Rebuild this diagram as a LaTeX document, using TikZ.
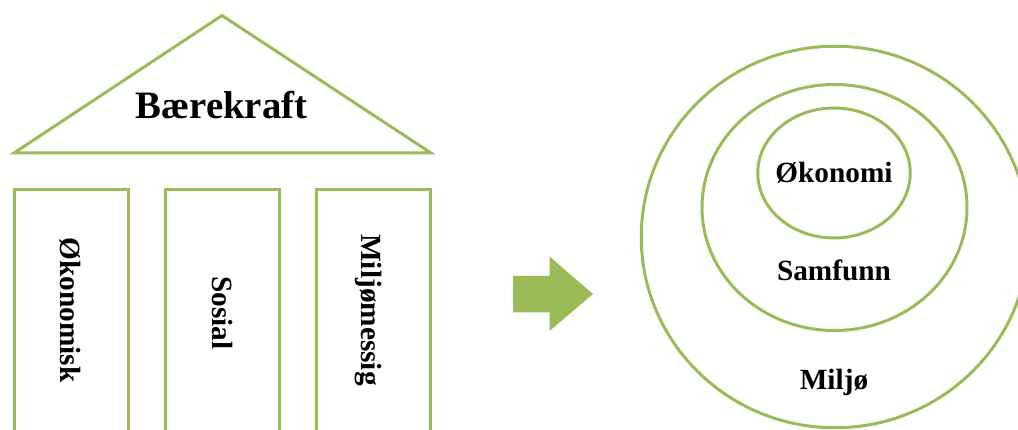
\documentclass[tikz,border=0pt]{standalone}
\usepackage{fontspec}
\setmainfont{Liberation Serif}
\usetikzlibrary{shapes.geometric}
\definecolor{leaf}{HTML}{9BBB59}
\tikzset{
  outline/.style={draw=leaf, line width=3pt, line join=miter},
  pillar/.style={outline, rectangle, minimum width=114pt, minimum height=280pt, anchor=north, inner sep=0pt},
  ring/.style={outline, ellipse, inner sep=0pt},
  bigtxt/.style={font=\bfseries\fontsize{38.8}{44}\selectfont, inner sep=0pt},
  midtxt/.style={font=\bfseries\fontsize{29.3}{34}\selectfont, inner sep=0pt},
  vtxt/.style={midtxt, rotate=-90},
}
\begin{document}
\begin{tikzpicture}[x=1pt, y=-1pt]
\useasboundingbox (0,0) rectangle (1018,430);
\clip (0,0) rectangle (1018,430);
% roof
\coordinate (apex) at (222,15.5);
\coordinate (bl) at (14,153);
\coordinate (br) at (431,153);
\draw[outline] (apex) -- (br) -- (bl) -- cycle;
\node[bigtxt, anchor=base] (roof) at (221.5,118.5) {Bærekraft};
% pillars
\node[pillar] (p1) at (71,188) {};
\node[pillar] (p2) at (222.5,188) {};
\node[pillar] (p3) at (373.5,188) {};
\node[vtxt] (t1) at (70,310) {Økonomisk};
\node[vtxt] (t2) at (222.5,313) {Sosial};
\node[vtxt] (t3) at (368,310) {Miljømessig};
% arrow
\fill[leaf] (513,276) -- (549.5,276) -- (549.5,256.5) -- (593,294) -- (549.5,331) -- (549.5,312.5) -- (513,312.5) -- cycle;
% circles
\node[ring, minimum width=387.5pt, minimum height=381.5pt] (outer) at (835,237) {};
\node[ring, minimum width=265pt, minimum height=246pt] (middle) at (834.5,207.5) {};
\node[ring, minimum width=152.5pt, minimum height=130pt] (inner) at (834,173) {};
\node[midtxt] (l1) at (834,173) {Økonomi};
\node[midtxt] (l2) at (834,270) {Samfunn};
\node[midtxt] (l3) at (834,382) {Miljø};
\end{tikzpicture}
\end{document}
